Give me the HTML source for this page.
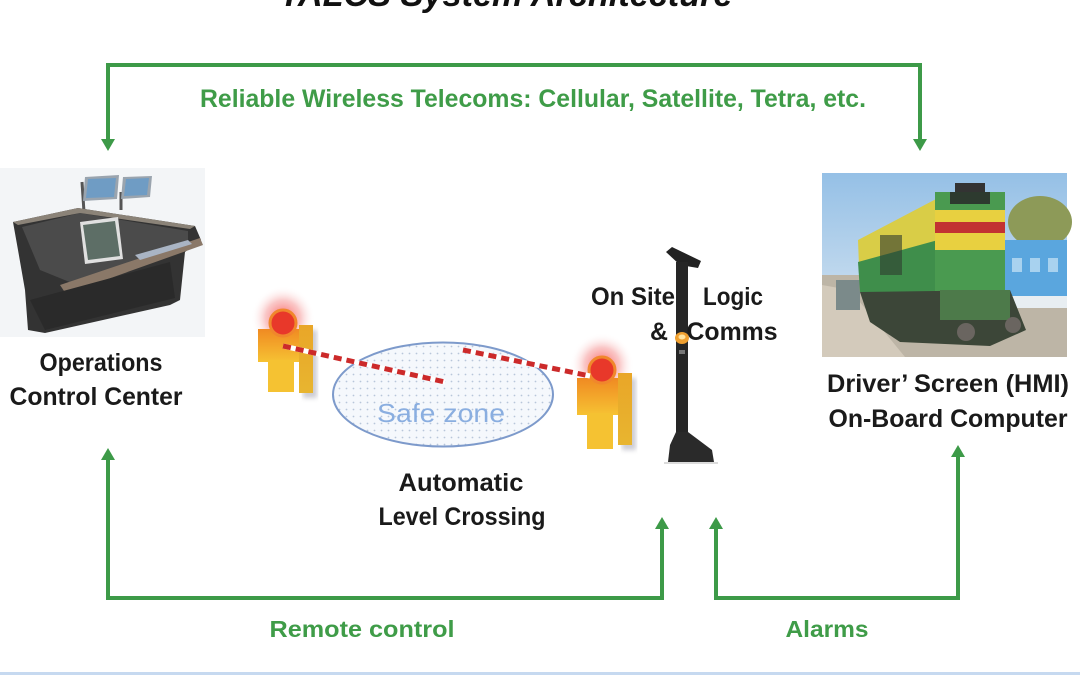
<!DOCTYPE html>
<html>
<head>
<meta charset="utf-8">
<style>
html,body{margin:0;padding:0;background:#fff;}
svg{display:block;}
text{font-family:"Liberation Sans",sans-serif;}
</style>
</head>
<body>
<svg width="1080" height="675" viewBox="0 0 1080 675" xmlns="http://www.w3.org/2000/svg">
<defs>
  <radialGradient id="glow" cx="0.5" cy="0.5" r="0.5">
    <stop offset="0" stop-color="#ff3030" stop-opacity="0.75"/>
    <stop offset="0.55" stop-color="#f06060" stop-opacity="0.35"/>
    <stop offset="1" stop-color="#ffffff" stop-opacity="0"/>
  </radialGradient>
  <linearGradient id="head" x1="0" y1="0" x2="0" y2="1">
    <stop offset="0" stop-color="#f08a22"/>
    <stop offset="1" stop-color="#f6c233"/>
  </linearGradient>
  <linearGradient id="side" x1="0" y1="0" x2="0" y2="1">
    <stop offset="0" stop-color="#e9a628"/>
    <stop offset="1" stop-color="#e8b530"/>
  </linearGradient>
  <linearGradient id="sky" x1="0" y1="0" x2="0" y2="1">
    <stop offset="0" stop-color="#95c0e6"/>
    <stop offset="1" stop-color="#dfeaf3"/>
  </linearGradient>
  <pattern id="dots" width="7" height="7" patternUnits="userSpaceOnUse">
    <rect width="7" height="7" fill="#f5f8fc"/>
    <circle cx="3.5" cy="3.5" r="0.9" fill="#b8c6da"/>
  </pattern>
  <filter id="blur2"><feGaussianBlur stdDeviation="2.5"/></filter>
</defs>

<!-- Title (cut off) -->
<text x="506" y="6" font-size="34" font-weight="bold" font-style="italic" fill="#111" text-anchor="middle" textLength="453" lengthAdjust="spacingAndGlyphs">TALCS System Architecture</text>

<!-- top green connector -->
<g stroke="#3d9a48" stroke-width="4" fill="none">
  <polyline points="108,141 108,65 920,65 920,141"/>
  <polyline points="108,458 108,598 662,598 662,527"/>
  <polyline points="716,527 716,598 958,598 958,455"/>
</g>
<g fill="#3d9a48">
  <polygon points="101,139 115,139 108,151"/>
  <polygon points="913,139 927,139 920,151"/>
  <polygon points="101,460 115,460 108,448"/>
  <polygon points="655,529 669,529 662,517"/>
  <polygon points="709,529 723,529 716,517"/>
  <polygon points="951,457 965,457 958,445"/>
</g>

<text x="533" y="107" font-size="25" font-weight="bold" fill="#3f9c48" text-anchor="middle" textLength="666" lengthAdjust="spacingAndGlyphs">Reliable Wireless Telecoms: Cellular, Satellite, Tetra, etc.</text>
<text x="362" y="637" font-size="23" font-weight="bold" fill="#3f9c48" text-anchor="middle" textLength="185" lengthAdjust="spacingAndGlyphs">Remote control</text>
<text x="827" y="637" font-size="23" font-weight="bold" fill="#3f9c48" text-anchor="middle" textLength="83" lengthAdjust="spacingAndGlyphs">Alarms</text>

<!-- Operations console image -->
<rect x="0" y="168" width="205" height="169" fill="#f3f5f7"/>
<g>
  <line x1="82" y1="182" x2="84" y2="212" stroke="#555" stroke-width="3"/>
  <line x1="121" y1="192" x2="121" y2="210" stroke="#555" stroke-width="3"/>
  <polygon points="85,177 119,175 117,199 83,201" fill="#9aa4ae"/>
  <polygon points="88,179 116,178 114,197 86,198" fill="#6f9cc4"/>
  <polygon points="123,177 152,176 150,197 121,199" fill="#9aa4ae"/>
  <polygon points="126,179 149,178 147,195 124,196" fill="#6f9cc4"/>
  <polygon points="13,222 78,208 195,226 201,240 185,252 180,300 170,305 45,333 28,330 25,290 18,250" fill="#333"/>
  <polygon points="22,227 80,213 188,231 188,246 72,283 40,270" fill="#4b4b4b"/>
  <polygon points="13,222 78,208 195,226 190,229 80,213 18,225" fill="#8b8378"/>
  <polygon points="60,285 200,238 203,245 66,294" fill="#8a7868"/>
  <polygon points="80,222 118,217 123,259 85,264" fill="#e0e0e0"/>
  <polygon points="83,225 115,221 120,256 88,260" fill="#5d6e66"/>
  <polygon points="135,255 188,240 192,244 140,260" fill="#a9b4c4"/>
  <polygon points="30,300 170,262 175,298 45,330" fill="#2a2a2a"/>
</g>
<text x="101" y="371" font-size="25" font-weight="bold" fill="#1a1a1a" text-anchor="middle" textLength="123" lengthAdjust="spacingAndGlyphs">Operations</text>
<text x="96" y="405" font-size="25" font-weight="bold" fill="#1a1a1a" text-anchor="middle" textLength="173" lengthAdjust="spacingAndGlyphs">Control Center</text>

<!-- Train photo -->
<g>
  <rect x="822" y="173" width="245" height="184" fill="url(#sky)"/>
  <ellipse cx="1040" cy="222" rx="32" ry="26" fill="#8d9a58"/>
  <rect x="822" y="275" width="245" height="82" fill="#bdb5a6"/>
  <polygon points="822,285 850,290 905,357 822,357" fill="#d3cabb"/>
  <rect x="1003" y="240" width="64" height="62" fill="#5aa6de"/>
  <rect x="1003" y="296" width="64" height="12" fill="#e8eef2"/>
  <rect x="1012" y="258" width="10" height="14" fill="#a8d2ef"/>
  <rect x="1030" y="258" width="10" height="14" fill="#a8d2ef"/>
  <rect x="1048" y="258" width="10" height="14" fill="#a8d2ef"/>
  <rect x="836" y="280" width="24" height="30" fill="#7b8a8a"/>
  <polygon points="858,240 938,198 938,292 860,292" fill="#d9cd47"/>
  <polygon points="858,262 938,240 938,292 860,292" fill="#3f8e4b"/>
  <rect x="880" y="235" width="22" height="40" fill="#2f3a2f" opacity="0.6"/>
  <rect x="955" y="183" width="30" height="12" fill="#333"/>
  <rect x="935" y="192" width="70" height="100" fill="#4a9a50"/>
  <rect x="935" y="210" width="70" height="12" fill="#e8d040"/>
  <rect x="935" y="222" width="70" height="11" fill="#c23232"/>
  <rect x="935" y="233" width="70" height="17" fill="#e8d040"/>
  <rect x="950" y="192" width="40" height="12" fill="#2d3a2f"/>
  <polygon points="860,292 1010,290 1026,330 990,346 900,342 870,322" fill="#3c4638"/>
  <rect x="940" y="290" width="70" height="30" fill="#4d7a4a"/>
  <circle cx="966" cy="332" r="9" fill="#6a6560"/>
  <circle cx="1013" cy="325" r="8" fill="#6a6560"/>
</g>
<text x="948" y="392" font-size="25" font-weight="bold" fill="#1a1a1a" text-anchor="middle" textLength="242" lengthAdjust="spacingAndGlyphs">Driver’ Screen (HMI)</text>
<text x="948" y="427" font-size="25" font-weight="bold" fill="#1a1a1a" text-anchor="middle" textLength="239" lengthAdjust="spacingAndGlyphs">On-Board Computer</text>

<!-- Safe zone -->
<ellipse cx="443" cy="394.5" rx="110" ry="52" fill="url(#dots)" stroke="#7d9acb" stroke-width="2"/>
<text x="441" y="422" font-size="26" fill="#8aaee0" text-anchor="middle" textLength="128" lengthAdjust="spacingAndGlyphs">Safe zone</text>

<!-- Left signal -->
<g>
  <circle cx="283" cy="318" r="32" fill="url(#glow)"/>
  <rect x="303" y="330" width="14" height="68" fill="#9a9aa8" opacity="0.5" filter="url(#blur2)"/>
  <rect x="299" y="325" width="14" height="68" fill="url(#side)"/>
  <rect x="258" y="329" width="41" height="33" fill="url(#head)"/>
  <rect x="268" y="360" width="26" height="32" fill="#f5c232"/>
  <circle cx="283" cy="323" r="13" fill="#e8382a" stroke="#f0872c" stroke-width="3"/>
</g>
<!-- Right signal -->
<g>
  <circle cx="602" cy="365" r="32" fill="url(#glow)"/>
  <rect x="622" y="378" width="14" height="72" fill="#9a9aa8" opacity="0.5" filter="url(#blur2)"/>
  <rect x="618" y="373" width="14" height="72" fill="url(#side)"/>
  <rect x="577" y="378" width="41" height="37" fill="url(#head)"/>
  <rect x="587" y="413" width="26" height="36" fill="#f5c232"/>
  <circle cx="602" cy="370" r="13" fill="#e8382a" stroke="#f0872c" stroke-width="3"/>
</g>

<!-- barrier arms -->
<g stroke-width="5" fill="none">
  <line x1="283" y1="346" x2="445" y2="382" stroke="#ffffff"/>
  <line x1="283" y1="346" x2="445" y2="382" stroke="#cc2a2a" stroke-dasharray="8 5"/>
  <line x1="463" y1="350" x2="590" y2="376" stroke="#ffffff"/>
  <line x1="463" y1="350" x2="590" y2="376" stroke="#cc2a2a" stroke-dasharray="8 5"/>
</g>

<!-- Pole -->
<g>
  <line x1="664" y1="463" x2="718" y2="463" stroke="#cfcfcf" stroke-width="1.5"/>
  <polygon points="666,252 672,247 701,261 698,268 680,265" fill="#222"/>
  <rect x="676" y="262" width="12" height="176" fill="#262626"/>
  <polygon points="670,445 676,432 688,432 712,450 714,462 668,462" fill="#2a2a2a"/>
  <rect x="679" y="350" width="6" height="4" fill="#777"/>
  <ellipse cx="682" cy="338" rx="7" ry="6" fill="#f0a030"/>
  <ellipse cx="682" cy="337" rx="3.5" ry="2.5" fill="#ffe3a0"/>
</g>

<text x="633" y="305" font-size="25" font-weight="bold" fill="#1a1a1a" text-anchor="middle" textLength="84" lengthAdjust="spacingAndGlyphs">On Site</text>
<text x="733" y="305" font-size="25" font-weight="bold" fill="#1a1a1a" text-anchor="middle" textLength="60" lengthAdjust="spacingAndGlyphs">Logic</text>
<text x="659" y="340" font-size="25" font-weight="bold" fill="#1a1a1a" text-anchor="middle" textLength="18" lengthAdjust="spacingAndGlyphs">&amp;</text>
<text x="732" y="340" font-size="25" font-weight="bold" fill="#1a1a1a" text-anchor="middle" textLength="91" lengthAdjust="spacingAndGlyphs">Comms</text>

<text x="461" y="491" font-size="25" font-weight="bold" fill="#1a1a1a" text-anchor="middle" textLength="125" lengthAdjust="spacingAndGlyphs">Automatic</text>
<text x="462" y="525" font-size="25" font-weight="bold" fill="#1a1a1a" text-anchor="middle" textLength="167" lengthAdjust="spacingAndGlyphs">Level Crossing</text>

<!-- bottom edge line -->
<rect x="0" y="672" width="1080" height="3" fill="#c6d9f0"/>
</svg>
</body>
</html>
